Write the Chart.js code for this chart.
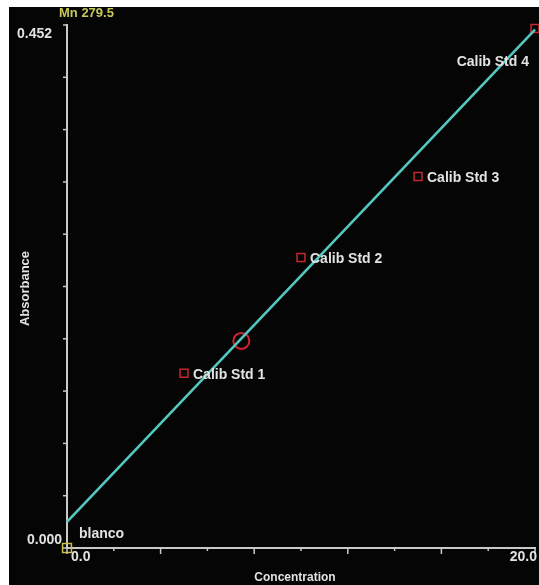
<!DOCTYPE html>
<html>
<head>
<meta charset="utf-8">
<script src="https://cdn.jsdelivr.net/npm/chart.js@4.4.1/dist/chart.umd.min.js"></script>
<style>
  html, body { margin: 0; padding: 0; background: #fff; }
  #screen { position: absolute; left: 9px; top: 7px; width: 530px; height: 578px; background: #050505; }
  canvas { display: block; }
</style>
</head>
<body>
<div id="screen"><canvas id="calib" width="530" height="578"></canvas></div>
<script>
// Калибровочные данные
const elementLine = 'Mn 279.5';
const stdNames = ['Calib Std 1', 'Calib Std 2', 'Calib Std 3', 'Calib Std 4'];
const stdConc = [5.0, 10.0, 15.0, 20.0];
const stdAbs = [0.151, 0.251, 0.321, 0.449];
const blankName = 'blanco';
const blankConc = [0.0];
const blankAbs = [0.0];
const sampleConc = [7.45];
const sampleAbs = [0.179];
const fitConc = [0.0, 20.0];
const fitAbs = [0.0225, 0.448];
const xRange = [0.0, 20.0];
const yRange = [0.000, 0.452];
const xTickLabels = ['0.0', '20.0'];
const yTickLabels = ['0.000', '0.452'];
const xStep = 2.0;
const yStep = 0.0452;
const xTitle = 'Concentration';
const yTitle = 'Absorbance';

const toPoints = (xs, ys) => xs.map((v, i) => ({ x: v, y: ys[i] }));

const axisColor = '#c9c9c9';
const textColor = '#e2e2e2';
const labelFont = 'bold 14px "Liberation Sans", Arial, sans-serif';

// Подписи, засечки и заголовки осей
const screenText = {
  id: 'screenText',
  afterDraw(chart) {
    const { ctx, chartArea: a, scales: { x, y } } = chart;
    ctx.save();

    // засечки
    ctx.strokeStyle = axisColor;
    ctx.lineWidth = 1.5;
    x.ticks.forEach(t => {
      const px = x.getPixelForValue(t.value);
      const tall = Math.abs(t.value % 4) < 0.01 || Math.abs(t.value % 4 - 4) < 0.01;
      ctx.beginPath();
      ctx.moveTo(px, a.bottom);
      ctx.lineTo(px, a.bottom + (tall ? 6 : 3));
      ctx.stroke();
    });
    y.ticks.forEach(t => {
      const py = y.getPixelForValue(t.value);
      ctx.beginPath();
      ctx.moveTo(a.left, py);
      ctx.lineTo(a.left - 4, py);
      ctx.stroke();
    });

    ctx.font = labelFont;
    ctx.fillStyle = textColor;
    ctx.textBaseline = 'middle';

    // подписи концов осей
    ctx.textAlign = 'right';
    ctx.fillText(yTickLabels[1], a.left - 15, y.getPixelForValue(yRange[1]) + 9);
    ctx.fillText(yTickLabels[0], a.left - 5, y.getPixelForValue(yRange[0]) - 8);
    ctx.textAlign = 'left';
    ctx.fillText(xTickLabels[0], x.getPixelForValue(xRange[0]) + 4, a.bottom + 9);
    ctx.textAlign = 'right';
    ctx.fillText(xTickLabels[1], x.getPixelForValue(xRange[1]) + 2, a.bottom + 9);

    // подписи стандартов
    const stdMeta = chart.getDatasetMeta(1);
    stdMeta.data.forEach((pt, i) => {
      if (i === stdNames.length - 1) {
        ctx.textAlign = 'right';
        ctx.fillText(stdNames[i], pt.x - 6, pt.y + 34);
      } else {
        ctx.textAlign = 'left';
        ctx.fillText(stdNames[i], pt.x + 9, pt.y + 2);
      }
    });
    const blankPt = chart.getDatasetMeta(3).data[0];
    ctx.textAlign = 'left';
    ctx.fillText(blankName, blankPt.x + 12, blankPt.y - 14);

    // заголовок
    ctx.fillStyle = '#c9c95a';
    ctx.font = 'bold 13px "Liberation Sans", Arial, sans-serif';
    ctx.textAlign = 'left';
    ctx.fillText(elementLine, a.left - 8, a.top - 12);

    // заголовки осей
    ctx.fillStyle = textColor;
    ctx.font = 'bold 12px "Liberation Sans", Arial, sans-serif';
    ctx.textAlign = 'center';
    ctx.fillText(xTitle, (a.left + a.right) / 2 - 6, a.bottom + 30);
    ctx.save();
    ctx.translate(a.left - 42, (a.top + a.bottom) / 2 + 2);
    ctx.rotate(-Math.PI / 2);
    ctx.font = 'bold 13px "Liberation Sans", Arial, sans-serif';
    ctx.fillText(yTitle, 0, 0);
    ctx.restore();

    ctx.restore();
  }
};

new Chart(document.getElementById('calib'), {
  type: 'scatter',
  data: {
    datasets: [
      {
        type: 'line',
        label: 'fit',
        data: toPoints(fitConc, fitAbs),
        borderColor: '#55c7c1',
        borderWidth: 2.6,
        pointRadius: 0,
        fill: false,
        clip: false
      },
      {
        label: 'standards',
        data: toPoints(stdConc, stdAbs),
        pointStyle: 'rect',
        pointRadius: 5.6,
        borderColor: '#c8262e',
        borderWidth: 1.5,
        backgroundColor: 'rgba(0,0,0,0)',
        clip: false
      },
      {
        label: 'sample',
        data: toPoints(sampleConc, sampleAbs),
        pointStyle: 'circle',
        pointRadius: 8,
        borderColor: '#d02232',
        borderWidth: 2,
        backgroundColor: 'rgba(0,0,0,0)',
        clip: false
      },
      {
        label: 'blank',
        data: toPoints(blankConc, blankAbs),
        pointStyle: 'rect',
        pointRadius: 6.3,
        borderColor: '#c8c040',
        borderWidth: 1.5,
        backgroundColor: 'rgba(0,0,0,0)',
        clip: false
      }
    ]
  },
  options: {
    responsive: false,
    animation: false,
    events: [],
    layout: {
      autoPadding: false,
      padding: { left: 50, right: 4, top: 18, bottom: 29 }
    },
    plugins: {
      legend: { display: false },
      tooltip: { enabled: false }
    },
    scales: {
      x: {
        type: 'linear',
        min: xRange[0],
        max: xRange[1],
        ticks: { display: false, stepSize: xStep },
        grid: { display: false },
        border: { display: true, color: axisColor, width: 2 }
      },
      y: {
        type: 'linear',
        min: yRange[0],
        max: yRange[1],
        ticks: { display: false, stepSize: yStep },
        grid: { display: false },
        border: { display: true, color: axisColor, width: 2 }
      }
    }
  },
  plugins: [screenText]
});
</script>
</body>
</html>
